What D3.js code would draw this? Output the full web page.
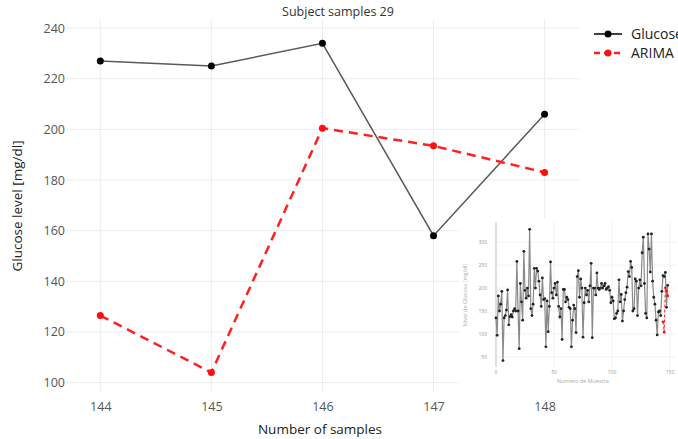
<!DOCTYPE html>
<html lang="en">
<head>
    <meta charset="UTF-8">
    <title>Subject samples 29</title>
    <script src="https://d3js.org/d3.v7.min.js"></script>
    <style>
        body {
            margin: 0;
            background: #ffffff;
            font-family: "Open Sans", "Noto Sans", sans-serif;
        }
        svg { display: block; }
    </style>
</head>
<body>
    <div id="chart"></div>
    <script>
        // Main chart data
        const samples = [144, 145, 146, 147, 148];
        const glucose = [227, 225, 234, 158, 206];
        const arima = [126.5, 104, 200.5, 193.5, 183];
        const yTicks = [100, 120, 140, 160, 180, 200, 220, 240];

        // Inset: full glucose history (samples 0..143), then the five above
        const history = [
            135, 97, 183, 150, 165, 193, 42, 135, 140, 152, 196, 120, 138, 142, 137, 150, 155, 150, 258, 150,
            68, 210, 170, 130, 280, 195, 178, 200, 183, 328, 155, 140, 165, 243, 200, 243, 237, 215, 185, 160,
            222, 175, 177, 72, 172, 105, 160, 257, 190, 178, 200, 210, 185, 213, 160, 137, 155, 88, 197, 197,
            170, 180, 175, 158, 155, 72, 130, 163, 155, 103, 225, 238, 180, 220, 200, 93, 168, 200, 185, 195,
            170, 205, 254, 92, 200, 200, 185, 233, 200, 197, 200, 210, 200, 205, 210, 197, 200, 203, 195, 168,
            180, 172, 133, 135, 145, 150, 218, 170, 186, 128, 150, 175, 190, 202, 236, 225, 258, 245, 150, 155,
            220, 215, 140, 200, 218, 205, 277, 311, 210, 145, 135, 318, 285, 235, 318, 215, 180, 165, 130, 98,
            148, 150, 140, 193
        ];
        const insetXTicks = [0, 50, 100, 150];
        const insetYTicks = [50, 100, 150, 200, 250, 300];

        const width = 678, height = 439;
        const svg = d3.select("#chart").append("svg")
            .attr("width", width)
            .attr("height", height);

        const x = d3.scaleLinear().domain([143.7, 148.31]).range([67, 579]);
        const y = d3.scaleLinear().domain([95.9, 243.2]).range([393, 20]);

        // grid
        svg.append("g").selectAll("line.h")
            .data(yTicks).enter().append("line")
            .attr("x1", 67).attr("x2", 579)
            .attr("y1", d => y(d)).attr("y2", d => y(d))
            .attr("stroke", "#ececec").attr("stroke-width", 1);
        svg.append("g").selectAll("line.v")
            .data(samples).enter().append("line")
            .attr("x1", d => x(d)).attr("x2", d => x(d))
            .attr("y1", 20).attr("y2", 393)
            .attr("stroke", "#ececec").attr("stroke-width", 1);

        // axes (labels only, no domain lines)
        const yAxis = svg.append("g")
            .attr("transform", "translate(67,0)")
            .call(d3.axisLeft(y).tickValues(yTicks).tickSize(0).tickPadding(2));
        const xAxis = svg.append("g")
            .attr("transform", "translate(0,393)")
            .call(d3.axisBottom(x).tickValues(samples).tickFormat(d3.format("d"))
                .tickSize(0).tickPadding(9));
        [xAxis, yAxis].forEach(a => {
            a.select(".domain").remove();
            a.selectAll("text")
                .attr("fill", "#555")
                .style("font-family", "'Open Sans', sans-serif")
                .style("font-size", "12.5px");
        });

        svg.append("text")
            .attr("x", 320).attr("y", 434)
            .attr("text-anchor", "middle")
            .attr("fill", "#222")
            .style("font-size", "13.5px")
            .text("Number of samples");

        svg.append("text")
            .attr("transform", "translate(22,206) rotate(-90)")
            .attr("text-anchor", "middle")
            .attr("fill", "#222")
            .style("font-size", "13.5px")
            .text("Glucose level [mg/dl]");

        svg.append("text")
            .attr("x", 338).attr("y", 16)
            .attr("text-anchor", "middle")
            .attr("fill", "#333")
            .style("font-size", "12.5px")
            .text("Subject samples 29");

        const line = d3.line().x((d, i) => x(samples[i])).y(d => y(d));

        svg.append("path")
            .datum(glucose)
            .attr("d", line)
            .attr("fill", "none")
            .attr("stroke", "#5a5a5a")
            .attr("stroke-width", 1.5);
        svg.append("g").selectAll("circle")
            .data(glucose).enter().append("circle")
            .attr("cx", (d, i) => x(samples[i]))
            .attr("cy", d => y(d))
            .attr("r", 3.5)
            .attr("fill", "#000");

        svg.append("path")
            .datum(arima)
            .attr("d", line)
            .attr("fill", "none")
            .attr("stroke", "#ff2020")
            .attr("stroke-width", 2.5)
            .attr("stroke-dasharray", "9,6");
        svg.append("g").selectAll("circle")
            .data(arima).enter().append("circle")
            .attr("cx", (d, i) => x(samples[i]))
            .attr("cy", d => y(d))
            .attr("r", 3.5)
            .attr("fill", "#ff1010");

        // legend (the reference clips "Glucose" at the right edge)
        const legend = svg.append("g").attr("transform", "translate(594,34)");
        const items = [
            { name: "Glucose", color: "#000", stroke: "#000", dash: null, w: 1.5 },
            { name: "ARIMA", color: "#ff1010", stroke: "#ff2020", dash: "6,4", w: 2.5 }
        ];
        items.forEach((it, i) => {
            const g = legend.append("g").attr("transform", `translate(0,${i * 19})`);
            g.append("line")
                .attr("x1", 0).attr("x2", 28)
                .attr("stroke", it.stroke)
                .attr("stroke-width", it.w)
                .attr("stroke-dasharray", it.dash);
            g.append("circle").attr("cx", 14).attr("r", 3.5).attr("fill", it.color);
            g.append("text")
                .attr("x", 37).attr("y", 5)
                .attr("fill", "#222")
                .style("font-size", "14px")
                .text(it.name);
        });

        // inset
        const inset = svg.append("g");
        inset.append("rect")
            .attr("x", 459).attr("y", 218)
            .attr("width", width - 459).attr("height", 178)
            .attr("fill", "#fff");

        const full = history.concat(glucose);
        const ix = d3.scaleLinear().domain([0, 150]).range([496, 670]);
        const iy = d3.scaleLinear().domain([28, 344]).range([367, 222]);

        inset.append("g").selectAll("line")
            .data(insetYTicks).enter().append("line")
            .attr("x1", 496).attr("x2", 676)
            .attr("y1", d => iy(d)).attr("y2", d => iy(d))
            .attr("stroke", "#f2f2f2");
        inset.append("g").selectAll("line")
            .data(insetXTicks.slice(1)).enter().append("line")
            .attr("x1", d => ix(d)).attr("x2", d => ix(d))
            .attr("y1", 222).attr("y2", 367)
            .attr("stroke", "#f2f2f2");
        inset.append("line")
            .attr("x1", ix(0)).attr("x2", ix(0))
            .attr("y1", 222).attr("y2", 367)
            .attr("stroke", "#d4d4d4").attr("stroke-width", 1.5);

        inset.append("g").selectAll("text")
            .data(insetYTicks).enter().append("text")
            .attr("x", 487).attr("y", d => iy(d) + 2)
            .attr("text-anchor", "end")
            .attr("fill", "#999")
            .style("font-size", "5px")
            .text(d => d);
        inset.append("g").selectAll("text")
            .data(insetXTicks).enter().append("text")
            .attr("x", d => ix(d)).attr("y", 374)
            .attr("text-anchor", "middle")
            .attr("fill", "#999")
            .style("font-size", "5px")
            .text(d => d);
        inset.append("text")
            .attr("x", 583).attr("y", 383)
            .attr("text-anchor", "middle")
            .attr("fill", "#aaa")
            .style("font-size", "5.5px")
            .text("Numero de Muestra");
        inset.append("text")
            .attr("transform", "translate(467,295) rotate(-90)")
            .attr("text-anchor", "middle")
            .attr("fill", "#aaa")
            .style("font-size", "5.5px")
            .text("Nivel de Glucosa [mg/dl]");

        const iline = d3.line().x((d, i) => ix(i)).y(d => iy(d));
        inset.append("path")
            .datum(full)
            .attr("d", iline)
            .attr("fill", "none")
            .attr("stroke", "#8a8a8a")
            .attr("stroke-width", 1.2);
        inset.append("g").selectAll("circle")
            .data(full).enter().append("circle")
            .attr("cx", (d, i) => ix(i))
            .attr("cy", d => iy(d))
            .attr("r", 1.4)
            .attr("fill", "#222");

        const iarima = d3.line().x((d, i) => ix(samples[i])).y(d => iy(d));
        inset.append("path")
            .datum(arima)
            .attr("d", iarima)
            .attr("fill", "none")
            .attr("stroke", "#ff2020")
            .attr("stroke-width", 1)
            .attr("stroke-dasharray", "3,2");
        inset.append("g").selectAll("circle")
            .data(arima).enter().append("circle")
            .attr("cx", (d, i) => ix(samples[i]))
            .attr("cy", d => iy(d))
            .attr("r", 1.4)
            .attr("fill", "#ff1010");
    </script>
</body>
</html>
